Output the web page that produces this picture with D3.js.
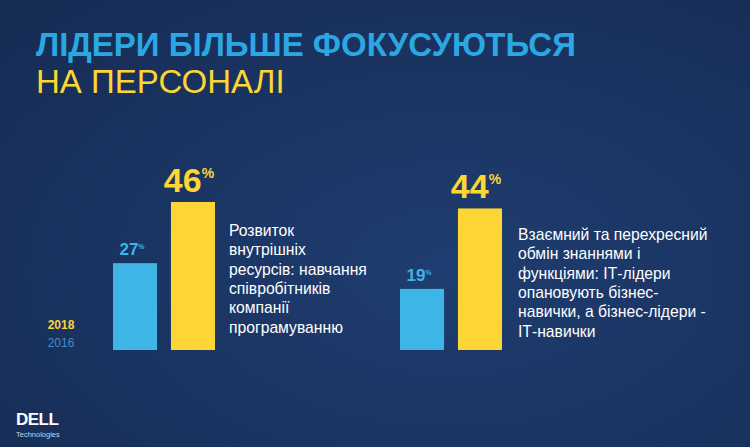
<!DOCTYPE html>
<html><head><meta charset="utf-8">
<script src="https://cdn.jsdelivr.net/npm/d3@7"></script>
<style>body{margin:0;background:#1b3462}svg{display:block;font-family:"Liberation Sans",Arial,sans-serif}</style>
</head><body><div class="div-chart"></div>
<script>
// data
const groups = ["g1", "g2"];
const years = ["2016", "2018"];
const values2016 = [27, 19];
const values2018 = [46, 44];
const captions = [
  ["Розвиток", "внутрішніх", "ресурсів: навчання", "співробітників", "компанії", "програмуванню"],
  ["Взаємний та перехресний", "обмін знаннями і", "функціями: ІТ-лідери", "опановують бізнес-", "навички, а бізнес-лідери -", "ІТ-навички"]
];

const width = 750, height = 447;
const colors = { "2016": "#3db5e6", "2018": "#fdd535" };

const svg = d3.select(".div-chart").append("svg")
  .attr("width", width).attr("height", height);

const defs = svg.append("defs");
const grad = defs.append("radialGradient").attr("id", "bg").attr("cx", "0.6").attr("cy", "0.6").attr("r", "0.8");
grad.append("stop").attr("offset", "0").attr("stop-color", "#1f3d70");
grad.append("stop").attr("offset", "1").attr("stop-color", "#162c55");
svg.append("rect").attr("width", width).attr("height", height).attr("fill", "url(#bg)");

// title
svg.append("text").attr("x", 36).attr("y", 56).attr("fill", "#2ba8e2")
  .attr("font-size", 33).attr("font-weight", "bold").text("ЛІДЕРИ БІЛЬШЕ ФОКУСУЮТЬСЯ");
svg.append("text").attr("x", 36).attr("y", 93).attr("fill", "#fdd535")
  .attr("font-size", 33).text("НА ПЕРСОНАЛІ");

const baseline = 350;
const y = d3.scaleLinear().domain([0, 46]).range([baseline, 202]);
const groupX = d3.scaleOrdinal().domain(groups).range([113, 400]);
const barX = d3.scaleBand().domain(years).range([0, 102]).paddingInner(0.24);

groups.forEach((g, i) => {
  const gG = svg.append("g").attr("transform", `translate(${groupX(g)},0)`);
  const vals = { "2016": values2016[i], "2018": values2018[i] };
  years.forEach((yr) => {
    const v = vals[yr];
    gG.append("rect").attr("x", barX(yr)).attr("y", y(v))
      .attr("width", barX.bandwidth()).attr("height", baseline - y(v))
      .attr("fill", colors[yr]);
    const big = yr === "2018";
    const t = gG.append("text").attr("x", barX(yr) + barX.bandwidth() / 2 + (big ? -4 : -3))
      .attr("y", y(v) - (big ? 10 : 8)).attr("text-anchor", "middle")
      .attr("fill", colors[yr]).attr("font-weight", "bold").attr("font-size", big ? 34 : 17);
    t.append("tspan").text(v);
    t.append("tspan").attr("font-size", big ? 14 : 7).attr("dy", big ? -14 : -6).text("%");
  });
  const cap = gG.append("text").attr("x", 116).attr("y", 236 + (i ? 4 : 0))
    .attr("fill", "#ffffff").attr("font-size", 15.7);
  captions[i].forEach((line, k) => cap.append("tspan").attr("x", i ? 118 : 116).attr("dy", k ? 19.3 : 0).text(line));
});

// legend
svg.append("text").attr("x", 61).attr("y", 329).attr("fill", "#fdd535")
  .attr("font-size", 12).attr("font-weight", "bold").attr("text-anchor", "middle").text("2018");
svg.append("text").attr("x", 61).attr("y", 347).attr("fill", "#3d8fd0")
  .attr("font-size", 12).attr("text-anchor", "middle").text("2016");

// logo
svg.append("text").attr("x", 16).attr("y", 425).attr("fill", "#fff")
  .attr("font-size", 17).attr("font-weight", "bold").attr("letter-spacing", -0.5).text("DELL");
svg.append("text").attr("x", 16).attr("y", 437).attr("fill", "#c8d0e0")
  .attr("font-size", 7.5).text("Technologies");
</script></body></html>
